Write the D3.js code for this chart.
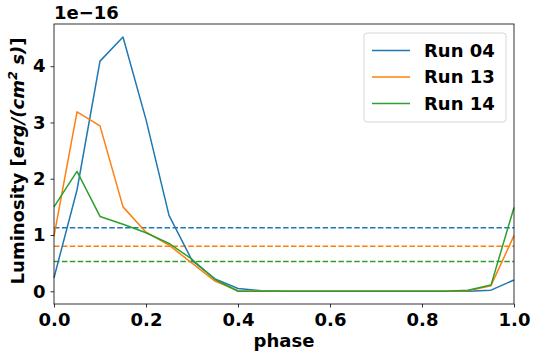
<!DOCTYPE html>
<html>
<head>
<meta charset="utf-8">
<script src="https://cdn.jsdelivr.net/npm/d3@7"></script>
<style>
  body { margin: 0; background: #fff; }
  svg text { font-family: "DejaVu Sans", sans-serif; font-weight: bold; }
</style>
</head>
<body>
<div id="chart"></div>
<script>
// phase samples
const phases = [0, 0.05, 0.1, 0.15, 0.2, 0.25, 0.3, 0.35, 0.4, 0.45, 0.5,
                0.55, 0.6, 0.65, 0.7, 0.75, 0.8, 0.85, 0.9, 0.95, 1.0];

// luminosity in units of 1e-16 erg/(cm^2 s)
const run04 = [0.24, 1.8, 4.09, 4.52, 3.05, 1.35, 0.55, 0.22, 0.05, 0.01, 0,
               0, 0, 0, 0, 0, 0, 0, 0, 0.02, 0.2];
const run13 = [0.98, 3.19, 2.94, 1.5, 1.05, 0.82, 0.5, 0.18, 0.01, 0, 0,
               0, 0, 0, 0, 0, 0, 0, 0.01, 0.1, 0.99];
const run14 = [1.5, 2.13, 1.33, 1.19, 1.04, 0.85, 0.57, 0.21, 0, 0, 0,
               0, 0, 0, 0, 0, 0, 0, 0.02, 0.11, 1.49];

const seriesNames = ["Run 04", "Run 13", "Run 14"];
const meanValues = [1.13, 0.8, 0.53];
const colors = ["#1f77b4", "#ff7f0e", "#2ca02c"];
const xTicks = [0, 0.2, 0.4, 0.6, 0.8, 1.0];
const yTicks = [0, 1, 2, 3, 4];

const width = 538, height = 360;
const margins = { top: 24, bottom: 56, left: 54, right: 24 };
const fontSize = 18;

const svg = d3.select("#chart").append("svg")
  .attr("width", width)
  .attr("height", height);

const xScale = d3.scaleLinear()
  .domain([0, 1])
  .range([margins.left, width - margins.right]);

const yScale = d3.scaleLinear()
  .domain([-0.226, 4.75])
  .range([height - margins.bottom, margins.top]);

const allRuns = [run04, run13, run14];

// mean lines (dashed)
svg.selectAll("line.mean")
  .data(meanValues)
  .join("line")
  .attr("class", "mean")
  .attr("x1", xScale(0))
  .attr("x2", xScale(1))
  .attr("y1", d => yScale(d))
  .attr("y2", d => yScale(d))
  .attr("stroke", (d, i) => colors[i])
  .attr("stroke-width", 1.5)
  .attr("stroke-dasharray", "5.5,2.4");

const line = d3.line()
  .x((d, i) => xScale(phases[i]))
  .y(d => yScale(d));

svg.selectAll("path.run")
  .data(allRuns)
  .join("path")
  .attr("class", "run")
  .attr("d", line)
  .attr("fill", "none")
  .attr("stroke", (d, i) => colors[i])
  .attr("stroke-width", 1.5)
  .attr("stroke-linejoin", "round");

// axes
const xAxis = d3.axisBottom(xScale)
  .tickValues(xTicks)
  .tickFormat(d3.format(".1f"))
  .tickSize(3.5)
  .tickPadding(5.5);

const yAxis = d3.axisLeft(yScale)
  .tickValues(yTicks)
  .tickFormat(d3.format("d"))
  .tickSize(3.5)
  .tickPadding(5);

svg.append("g")
  .attr("transform", `translate(0,${height - margins.bottom})`)
  .call(xAxis)
  .call(g => g.select(".domain").remove())
  .call(g => g.selectAll("text").attr("font-size", fontSize).attr("fill", "#000")
    .attr("font-family", "DejaVu Sans"));

svg.append("g")
  .attr("transform", `translate(${margins.left},0)`)
  .call(yAxis)
  .call(g => g.select(".domain").remove())
  .call(g => g.selectAll("text").attr("font-size", fontSize).attr("fill", "#000")
    .attr("font-family", "DejaVu Sans"));

svg.selectAll(".tick line").attr("stroke", "#000").attr("stroke-width", 0.8);

// frame
svg.append("rect")
  .attr("x", xScale(0))
  .attr("y", margins.top)
  .attr("width", xScale(1) - xScale(0))
  .attr("height", height - margins.bottom - margins.top)
  .attr("fill", "none")
  .attr("stroke", "#000")
  .attr("stroke-width", 0.8);

// offset text
svg.append("text")
  .attr("x", margins.left)
  .attr("y", margins.top - 5)
  .attr("font-size", fontSize)
  .text("1e\u221216");

// axis labels
svg.append("text")
  .attr("x", (xScale(0) + xScale(1)) / 2)
  .attr("y", 347)
  .attr("text-anchor", "middle")
  .attr("font-size", fontSize)
  .text("phase");

const ylab = svg.append("text")
  .attr("transform", `translate(24,${(margins.top + height - margins.bottom) / 2 - 3}) rotate(-90)`)
  .attr("text-anchor", "middle")
  .attr("font-size", fontSize);
ylab.append("tspan").text("Luminosity [");
ylab.append("tspan").attr("font-style", "italic").text("erg/(cm");
ylab.append("tspan").attr("font-style", "italic").attr("font-size", 13).attr("dy", -7).text("2");
ylab.append("tspan").attr("font-style", "italic").attr("dy", 7).text(" s)");
ylab.append("tspan").text("]");

// legend
const legend = svg.append("g").attr("transform", "translate(364,33)");
legend.append("rect")
  .attr("width", 142)
  .attr("height", 89)
  .attr("rx", 3)
  .attr("fill", "#fff")
  .attr("fill-opacity", 0.8)
  .attr("stroke", "#ccc")
  .attr("stroke-width", 0.8);

const items = legend.selectAll("g.item")
  .data(seriesNames)
  .join("g")
  .attr("class", "item")
  .attr("transform", (d, i) => `translate(0,${17.5 + i * 26.5})`);

items.append("line")
  .attr("x1", 8)
  .attr("x2", 46)
  .attr("stroke", (d, i) => colors[i])
  .attr("stroke-width", 1.5);

items.append("text")
  .attr("x", 60)
  .attr("dy", "0.36em")
  .attr("font-size", fontSize)
  .text(d => d);
</script>
</body>
</html>
